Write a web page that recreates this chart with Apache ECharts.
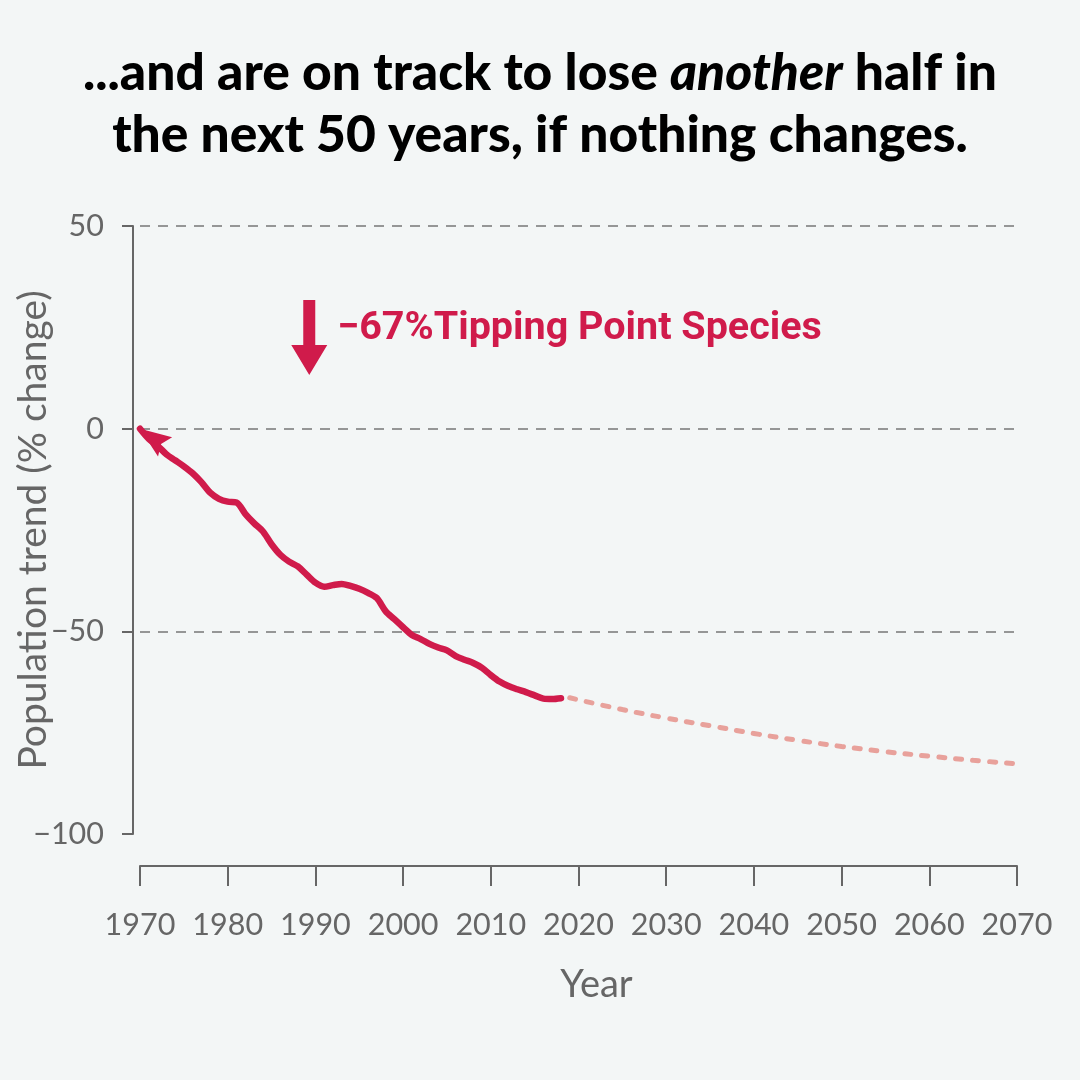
<!DOCTYPE html>
<html>
<head>
<meta charset="utf-8">
<script src="https://cdn.jsdelivr.net/npm/echarts@6/dist/echarts.min.js"></script>
<style>
  html, body { margin: 0; padding: 0; background: #f3f6f6; }
  #main { width: 1080px; height: 1080px; }
</style>
</head>
<body>
<div id="main"></div>
<script>
// observed index, 1970-2018 (% change from 1970)
var years = [1970,1971,1972,1973,1974,1975,1976,1977,1978,1979,
             1980,1981,1982,1983,1984,1985,1986,1987,1988,1989,
             1990,1991,1992,1993,1994,1995,1996,1997,1998,1999,
             2000,2001,2002,2003,2004,2005,2006,2007,2008,2009,
             2010,2011,2012,2013,2014,2015,2016,2017,2018];
var trend = [0,-2.5,-4.2,-6.3,-7.8,-9.3,-11,-13.2,-15.8,-17.3,
             -18,-18.2,-21,-23.3,-25.3,-28.5,-31.1,-32.8,-34,-36,
             -38,-39,-38.6,-38.3,-38.8,-39.5,-40.5,-41.8,-45,-47,
             -49,-50.9,-51.9,-53.1,-54,-54.7,-56.1,-57,-57.8,-59,
             -60.8,-62.4,-63.5,-64.3,-65,-65.8,-66.6,-66.7,-66.5];

// projection if nothing changes
var projYears = [2019,2025,2030,2035,2040,2045,2050,2055,2060,2065,2070];
var projTrend = [-66.4,-69.3,-71.4,-73.3,-75.2,-76.9,-78.4,-79.7,-80.8,-81.8,-82.7];

// annotation
var noteText = '\u221267%Tipping Point Species';
var notePos = [1989.3, 22.5];

var RED = '#d01b4b';
var PINK = '#e8a19b';
var GREY = '#666666';

// arrow head with its tip in the middle of the bounding box (first moveTo pads the box)
var ARROW_HEAD = 'path://M12,-31 M12,0 L24,31 L12,26 L0,31 Z';

var chart = echarts.init(document.getElementById('main'));

var lineData = years.map(function (y, i) {
  if (i === 0) {
    return {
      value: [y, trend[i]],
      symbol: ARROW_HEAD,
      symbolSize: [24, 62],
      symbolRotate: 54,
      itemStyle: { color: RED }
    };
  }
  return [y, trend[i]];
});

var option = {
  backgroundColor: '#f3f6f6',
  animation: false,
  title: {
    text: '...and are on track to lose {i|another} half in\nthe next 50 years, if nothing changes.',
    left: 'center',
    top: 37,
    textStyle: {
      fontFamily: 'Lato',
      fontWeight: 900,
      fontSize: 51.5,
      lineHeight: 62,
      color: '#000',
      rich: {
        i: { fontFamily: 'Lato', fontWeight: 900, fontStyle: 'italic', fontSize: 51.5, lineHeight: 62, color: '#000' }
      }
    }
  },
  grid: { left: 140, right: 63, top: 226, bottom: 246, outerBoundsMode: 'none' },
  xAxis: {
    type: 'value',
    min: 1970, max: 2070, interval: 10,
    offset: 32,
    name: 'Year',
    nameLocation: 'middle',
    nameGap: 100,
    nameMoveOverlap: false,
    nameTextStyle: { fontFamily: 'Lato', fontSize: 38, color: GREY, padding: [0, 0, 0, 36] },
    axisLine: { onZero: false, lineStyle: { color: GREY, width: 2 } },
    axisTick: { length: 20, lineStyle: { color: GREY, width: 2 } },
    axisLabel: { margin: 44, fontFamily: 'Lato', fontSize: 30.5, color: GREY, formatter: function (v) { return String(v); } },
    splitLine: { show: false }
  },
  yAxis: {
    type: 'value',
    min: -100, max: 50, interval: 50,
    offset: 7,
    name: 'Population trend (% change)',
    nameLocation: 'middle',
    nameGap: 80,
    nameMoveOverlap: false,
    nameTextStyle: { fontFamily: 'Lato', fontSize: 39, color: GREY },
    axisLine: { show: true, lineStyle: { color: GREY, width: 2 } },
    axisTick: { show: true, length: 11, lineStyle: { color: GREY, width: 2 } },
    axisLabel: { margin: 29, fontFamily: 'Lato', fontSize: 30.5, color: GREY, formatter: function (v) { return String(v).replace('-', '\u2212'); } },
    splitLine: { show: true, showMinLine: false, lineStyle: { color: '#777', width: 1.5, type: [10, 8] } }
  },
  series: [
    {
      type: 'line',
      data: lineData,
      symbol: 'none',
      showSymbol: true,
      smooth: 0.3,
      lineStyle: { color: RED, width: 6.5, cap: 'round', join: 'round' },
      itemStyle: { color: RED },
      z: 3,
      markPoint: {
        symbol: 'path://M12,0 L24,0 L24,45 L36,45 L18,75 L0,45 L12,45 Z',
        symbolSize: [36, 75],
        itemStyle: { color: RED },
        label: {
          show: true,
          position: 'right',
          distance: 10,
          offset: [0, -8],
          formatter: noteText,
          fontFamily: 'Roboto',
          fontWeight: 'bold',
          fontSize: 39.5,
          color: RED
        },
        data: [{ coord: notePos }]
      }
    },
    {
      type: 'line',
      data: projYears.map(function (y, i) { return [y, projTrend[i]]; }),
      symbol: 'none',
      smooth: 0.4,
      lineStyle: { color: PINK, width: 5, type: [6, 11], cap: 'round' },
      z: 2
    }
  ]
};

chart.setOption(option);
</script>
</body>
</html>
